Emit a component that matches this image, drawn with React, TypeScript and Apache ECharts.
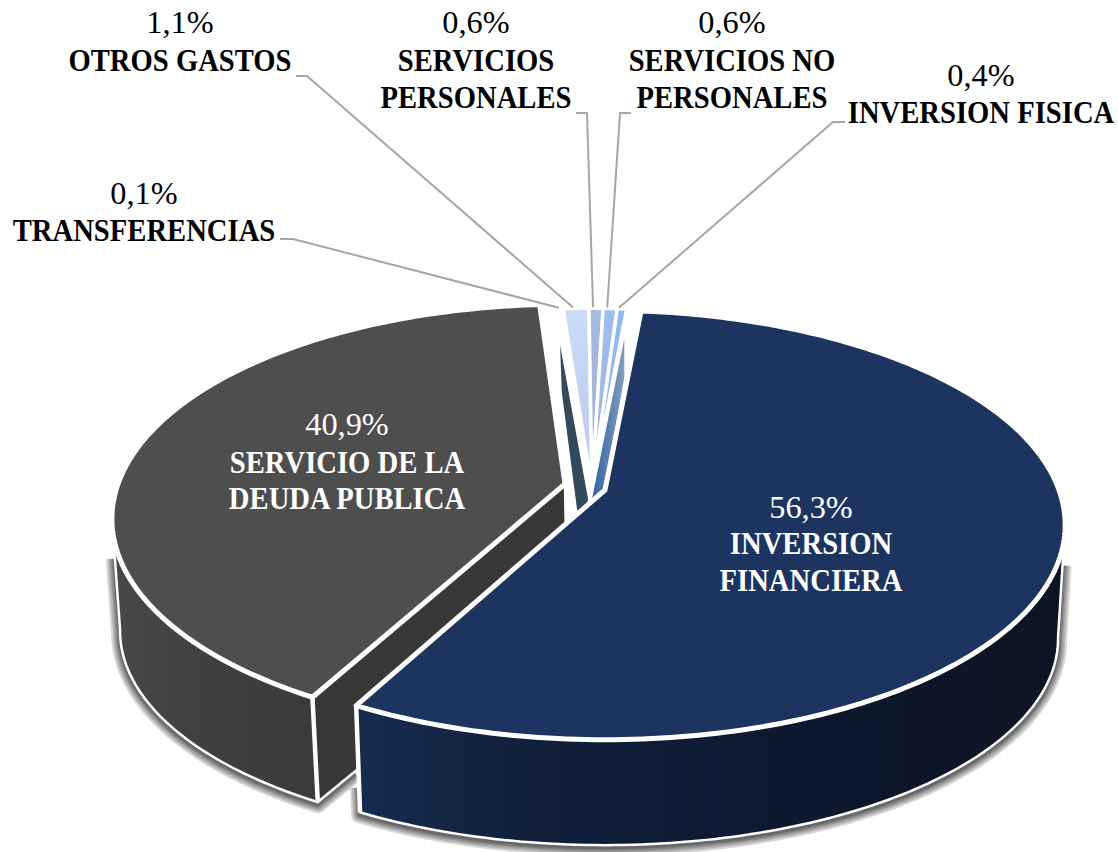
import React, { useEffect, useRef } from "react";
import * as echarts from "echarts";

// Clockwise order, starting with the largest slice
const categories = ["INVERSION FINANCIERA", "SERVICIO DE LA DEUDA PUBLICA", "TRANSFERENCIAS", "OTROS GASTOS", "SERVICIOS PERSONALES", "SERVICIOS NO PERSONALES", "INVERSION FISICA"];
const values = [56.3, 40.9, 0.1, 1.1, 0.6, 0.6, 0.4];
const valueLabels = ["56,3%", "40,9%", "0,1%", "1,1%", "0,6%", "0,6%", "0,4%"];
const nameLines = [
  ["INVERSION", "FINANCIERA"],
  ["SERVICIO DE LA", "DEUDA PUBLICA"],
  ["TRANSFERENCIAS"],
  ["OTROS GASTOS"],
  ["SERVICIOS", "PERSONALES"],
  ["SERVICIOS NO", "PERSONALES"],
  ["INVERSION FISICA"],
];

type Plane = { x: number; y: number; rx: number; ry: number };
const K = 0.163; // perspective strength
const DEG = Math.PI / 180;

const navyTop: Plane = { x: 605, y: 490, rx: 454, ry: 209 };
const navyLow: Plane = { x: 605, y: 605, rx: 447, ry: 201 };
const grayTop: Plane = { x: 565, y: 484, rx: 447, ry: 209 };
const grayLow: Plane = { x: 567, y: 597, rx: 441, ry: 201 };
const smallTop: Plane = { x: 592, y: 488, rx: 436, ry: 209 };
const sideTop: Plane = { x: 590, y: 500, rx: 454, ry: 209 };
const leftLow: Plane = { x: 578, y: 530, rx: 250, ry: 160 };
const rightLow: Plane = { x: 603, y: 510, rx: 290, ry: 155 };

const NAVY_START = 5.3;
const GRAY_GAP = 1;
const SIDE_V_ANGLE = 99; // where the outer wall's silhouette begins

const project = (p: Plane, deg: number): number[] => {
  const u = Math.sin(deg * DEG);
  const v = -Math.cos(deg * DEG);
  const s = 1 / (1 - K * v);
  return [p.x + p.rx * u * s, p.y + p.ry * v * s];
};
const center = (p: Plane): number[] => [p.x, p.y];
const arc = (p: Plane, a: number, b: number): number[][] => {
  const n = Math.max(2, Math.ceil(Math.abs(b - a)));
  const pts: number[][] = [];
  for (let i = 0; i <= n; i++) pts.push(project(p, a + ((b - a) * i) / n));
  return pts;
};
const lerp = (p: number[], q: number[], t: number): number[] => [p[0] + (q[0] - p[0]) * t, p[1] + (q[1] - p[1]) * t];

const total = values.reduce((a, b) => a + b, 0);
const sweep = (i: number) => (values[i] / total) * 360;

const angleRange = (i: number): number[] => {
  const navyEnd = NAVY_START + sweep(0);
  if (i === 0) return [NAVY_START, navyEnd];
  if (i === 1) return [navyEnd + GRAY_GAP, navyEnd + GRAY_GAP + sweep(1)];
  let a = NAVY_START + 360;
  for (let j = values.length - 1; j >= i; j--) a -= sweep(j);
  return [a, a + sweep(i)];
};

const smallFaceFill = (i: number): any => {
  const stops: Record<number, string[]> = {
    2: ["#33495c", "#33495c"],
    3: ["#cbdcf8", "#bac9e2"],
    4: ["#a8bbdc", "#9fb0cf"],
    5: ["#9dbeee", "#9db6e0"],
    6: ["#90b8f8", "#8fb0ea"],
  };
  const [a, b] = stops[i];
  return new echarts.graphic.LinearGradient(0, 0, 0, 1, [
    { offset: 0, color: a },
    { offset: 1, color: b },
  ]);
};

const FONT = "'Liberation Serif'";
const NAME_SCALE = 0.895;
const VALUE_SCALE = 1.01;
const labelLayout: Record<number, { x: number; ys: number[]; color: string; elbow?: number[][] }> = {
  0: { x: 811, ys: [507, 543, 580], color: "#ffffff" },
  1: { x: 347, ys: [424, 462, 498], color: "#ffffff" },
  2: { x: 144, ys: [193, 230], color: "#000000", elbow: [[280, 239], [293, 239]] },
  3: { x: 180, ys: [22, 60], color: "#000000", elbow: [[296, 76], [307, 76]] },
  4: { x: 476, ys: [22, 60, 97], color: "#000000", elbow: [[576, 113], [587, 113]] },
  5: { x: 732, ys: [22, 60, 97], color: "#000000", elbow: [[631, 113], [620, 113]] },
  6: { x: 981, ys: [75, 112], color: "#000000", elbow: [[845, 122], [833, 122]] },
};

const poly = (points: number[][], style: any, z2: number) => ({
  type: "polygon",
  shape: { points },
  style: { lineJoin: "round", ...style },
  z2,
  silent: true,
});

// Soft drop shadow: stacked translucent strokes along the outer lower edge
const softShadow = (points: number[][], z2: number): any[] => {
  const shifted = points.map((p) => [p[0], p[1] + 2]);
  return [18, 14, 10, 7, 4].map((w) => ({
    type: "polyline",
    shape: { points: shifted },
    style: { stroke: "rgba(0,0,0,0.16)", lineWidth: w, fill: "none", lineJoin: "round", lineCap: "butt" },
    z2,
    silent: true,
  }));
};

function renderSlice(params: any, api: any) {
  const i: number = params.dataIndex;
  api.value(0);
  const [a, b] = angleRange(i);
  const children: any[] = [];
  const white = { stroke: "#ffffff" };

  if (i === 0) {
    const wallFill = new echarts.graphic.LinearGradient(0, 0, 1, 0, [
      { offset: 0, color: "#172b50" },
      { offset: 0.25, color: "#111f3b" },
      { offset: 0.6, color: "#0e1930" },
      { offset: 1, color: "#0d1422" },
    ]);
    const wall = [...arc(navyTop, SIDE_V_ANGLE, b), ...arc(navyLow, b, SIDE_V_ANGLE)];
    const outline = [
      lerp(project(navyTop, SIDE_V_ANGLE), project(navyLow, SIDE_V_ANGLE), 0.35),
      ...arc(navyLow, SIDE_V_ANGLE, b),
      lerp(project(navyLow, b), project(navyTop, b), 0.25),
    ];
    children.push(...softShadow(outline, 10));
    children.push(poly(wall, { fill: wallFill, ...white, lineWidth: 2.5 }, 70));
    children.push({ type: "line", shape: { x1: project(navyTop, b)[0], y1: project(navyTop, b)[1], x2: project(navyLow, b)[0], y2: project(navyLow, b)[1] }, style: { stroke: "#fff", lineWidth: 4.5 }, z2: 71, silent: true });
    children.push(poly([center(navyTop), ...arc(navyTop, a, b)], { fill: "#1d3461", ...white, lineWidth: 5 }, 80));
  } else if (i === 1) {
    const wallFill = new echarts.graphic.LinearGradient(0, 0, 1, 0, [
      { offset: 0, color: "#484848" },
      { offset: 0.5, color: "#3f3f3f" },
      { offset: 1, color: "#3b3b3b" },
    ]);
    const side = 360 - SIDE_V_ANGLE;
    const band = [center(grayTop), project(grayTop, a), project(grayLow, a), center(grayLow)];
    const outline = [
      lerp(project(grayTop, side), project(grayLow, side), 0.35),
      ...arc(grayLow, side, a),
      lerp(project(grayLow, a), center(grayLow), 0.15),
    ];
    children.push(...softShadow(outline, 11));
    children.push(poly(band, { fill: "#383838", ...white, lineWidth: 2.5 }, 20));
    const wall = [...arc(grayTop, a, side), ...arc(grayLow, side, a)];
    children.push(poly(wall, { fill: wallFill, ...white, lineWidth: 2.5 }, 21));
    children.push({ type: "line", shape: { x1: project(grayTop, a)[0], y1: project(grayTop, a)[1], x2: project(grayLow, a)[0], y2: project(grayLow, a)[1] }, style: { stroke: "#fff", lineWidth: 4.5 }, z2: 22, silent: true });
    children.push(poly([center(grayTop), ...arc(grayTop, a, b)], { fill: "#4e4e4e", ...white, lineWidth: 5 }, 30));
  } else {
    if (i === 2) {
      const wall = [center(sideTop), project(sideTop, a), project(leftLow, a), center(leftLow)];
      children.push(poly(wall, { fill: "#33495c", ...white, lineWidth: 3.5 }, 40));
    }
    children.push(poly([center(smallTop), ...arc(smallTop, a, b)], { fill: smallFaceFill(i), ...white, lineWidth: 3.5 }, 50));
    if (i === 6) {
      const wallFill = new echarts.graphic.LinearGradient(0, 0, 1, 0, [
        { offset: 0, color: "#2c619f" },
        { offset: 0.5, color: "#5c7fb0" },
        { offset: 1, color: "#8b9dc2" },
      ]);
      const wall = [center(sideTop), project(sideTop, b), project(rightLow, b), center(rightLow)];
      children.push(poly(wall, { fill: wallFill, ...white, lineWidth: 3.5 }, 60));
    }
  }

  const layout = labelLayout[i];
  if (layout.elbow) {
    const end = project(smallTop, (a + b) / 2);
    children.push({
      type: "polyline",
      shape: { points: [...layout.elbow, [end[0] - 3, end[1] - 1]] },
      style: { stroke: "#a6a6a6", lineWidth: 2, fill: "none" },
      z2: 90,
      silent: true,
    });
  }
  const lines = [valueLabels[i], ...nameLines[i]];
  lines.forEach((text, k) => {
    children.push({
      type: "text",
      z2: 100,
      silent: true,
      x: layout.x,
      y: layout.ys[k],
      scaleX: k === 0 ? VALUE_SCALE : NAME_SCALE,
      style: {
        text,
        x: 0,
        y: 0,
        fill: layout.color,
        fontFamily: FONT,
        fontSize: 32,
        fontWeight: k === 0 ? "normal" : "bold",
        align: "center",
        verticalAlign: "middle",
      },
    });
  });
  return { type: "group", children };
}

export default function App() {
  const ref = useRef<HTMLDivElement>(null);
  useEffect(() => {
    document.body.style.margin = "0";
    const chart = echarts.init(ref.current as HTMLDivElement, null, { renderer: "svg" });
    chart.setOption({
      animation: false,
      backgroundColor: "#ffffff",
      series: [
        {
          type: "custom",
          name: "Gasto",
          coordinateSystem: "none",
          silent: true,
          clip: false,
          renderItem: renderSlice,
          data: values.map((v, i) => ({ name: categories[i], value: [v] })),
        },
      ],
    });
    return () => chart.dispose();
  }, []);
  return <div ref={ref} style={{ width: 1118, height: 852 }} />;
}
